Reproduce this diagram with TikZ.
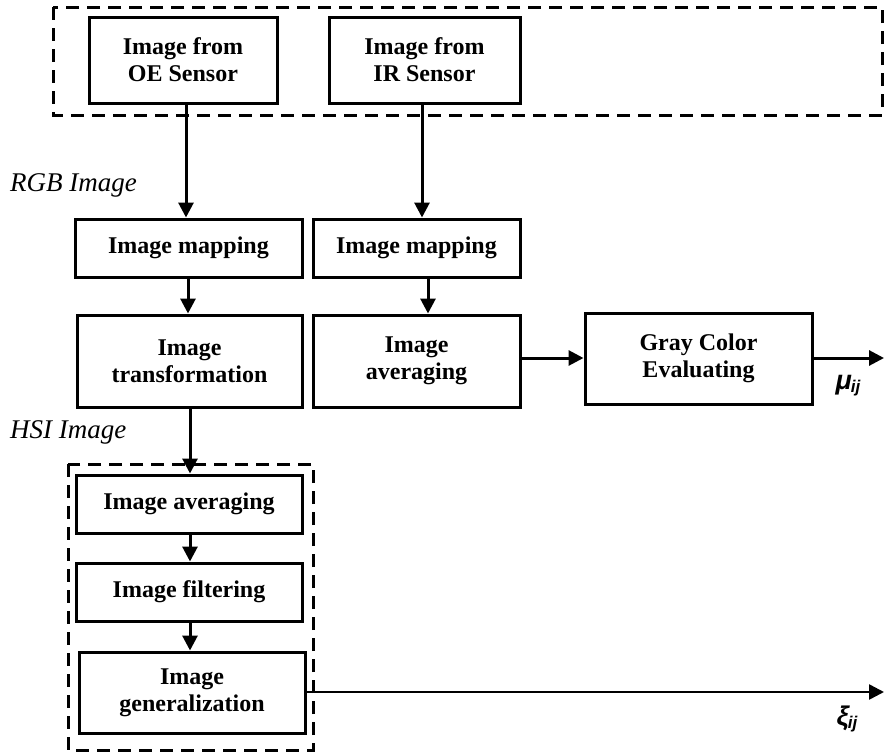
\documentclass[tikz,border=0pt]{standalone}
\usepackage{fontspec}
\setmainfont{Liberation Serif}
\newfontfamily\lsans{Liberation Sans}
\usetikzlibrary{arrows.meta}
\begin{document}
\begin{tikzpicture}[x=1pt,y=-1pt,
  box/.style={draw,line width=3pt,rectangle,inner sep=0pt,align=center,
    font=\bfseries\fontsize{24}{27}\selectfont},
  arr/.style={line width=3pt,-{Triangle[length=15pt,width=15pt]}},
  dbox/.style={draw,line width=3pt,dash pattern=on 13pt off 8pt},
  lab/.style={font=\itshape\fontsize{27}{30}\selectfont,inner sep=0pt,anchor=west},
  sym/.style={font=\lsans\bfseries\itshape\fontsize{27}{30}\selectfont,inner sep=0pt}
]
\useasboundingbox (0,0) rectangle (886,755);
\draw[dbox] (53,7) rectangle (882,115);
\draw[dbox] (68,464) rectangle (313,750);

\node[box,minimum width=188pt,minimum height=86pt] (oe) at (183,60) {Image from\\OE Sensor};
\node[box,minimum width=191pt,minimum height=86pt] (ir) at (424.5,60) {Image from\\IR Sensor};
\node[box,minimum width=227pt,minimum height=58pt] (map1) at (188.5,248) {Image mapping};
\node[box,minimum width=207pt,minimum height=58pt] (map2) at (416.5,248) {Image mapping};
\node[box,minimum width=225pt,minimum height=92pt] (trans) at (189.5,361) {Image\\transformation};
\node[box,minimum width=207pt,minimum height=92pt] (avg2) at (416.5,361) {Image\\averaging};
\node[box,minimum width=227pt,minimum height=91pt] (gray) at (698.5,358.5) {Gray Color\\Evaluating};
\node[box,minimum width=226pt,minimum height=58pt] (avg1) at (189,504) {Image averaging};
\node[box,minimum width=226pt,minimum height=58pt] (filt) at (189,592) {Image filtering};
\node[box,minimum width=226pt,minimum height=81pt] (gen) at (192,692.5) {Image\\generalization};

\node[lab] (rgb) at (10,185) {RGB Image};
\node[lab] (hsi) at (10,432) {HSI Image};

\coordinate (out1) at (884,358);
\coordinate (out2) at (884,692);

\draw[arr] (oe.south -| 186,0) -- (map1.north -| 186,0);
\draw[arr] (ir.south -| 422,0) -- (map2.north -| 422,0);
\draw[arr] (map1.south -| 188,0) -- (trans.north -| 188,0);
\draw[arr] (map2.south -| 428,0) -- (avg2.north -| 428,0);
\draw[arr] (trans.south -| 190,0) -- (avg1.north -| 190,0);
\draw[arr] (avg1.south -| 190,0) -- (filt.north -| 190,0);
\draw[arr] (filt.south -| 190,0) -- (gen.north -| 190,0);
\draw[arr] (avg2.east |- 0,358) -- (gray.west |- 0,358);
\draw[arr] (gray.east |- out1) -- (out1);
\draw[line width=2.5pt,-{Triangle[length=15pt,width=15pt]}] (gen.east |- out2) -- (out2);

\node[sym] (mu) at (848,386) {μ\kern-1pt{\fontsize{17}{20}\selectfont\raisebox{-3pt}{ij}}};
\node[sym] (xi) at (847,719) {ξ\kern-1pt{\fontsize{17}{20}\selectfont\raisebox{-3pt}{ij}}};
\end{tikzpicture}
\end{document}
